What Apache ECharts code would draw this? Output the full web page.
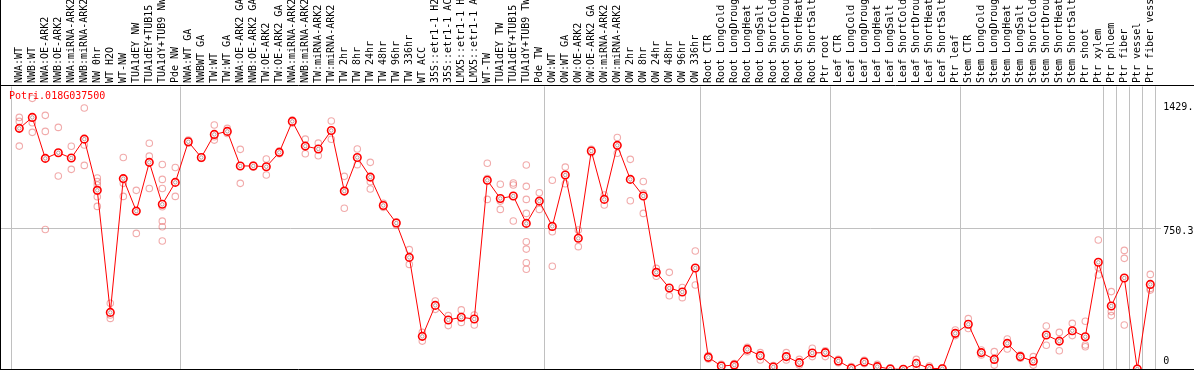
<!DOCTYPE html>
<html><head><meta charset="utf-8">
<script src="https://cdn.jsdelivr.net/npm/echarts@6/dist/echarts.min.js"></script>
<style>html,body{margin:0;padding:0;background:#fff;overflow:hidden}#c{width:1194px;height:370px}</style>
</head><body><div id="c"></div>
<script>
const chartTitle = 'Potri.018G037500';

const categories = [
  'NWA:WT','NWB:WT','NWA:OE-ARK2','NWB:OE-ARK2','NWA:miRNA-ARK2','NWB:miRNA-ARK2','NW 0hr','WT H2O','WT-NW',
  'TUA1dEY NW','TUA1dEY+TUB15 NW','TUA1dY+TUB9 NW','Pde NW',
  'NWA:WT GA','NWBWT GA','TW:WT','TW:WT GA','NWA:OE-ARK2 GA','NWB:OE-ARK2 GA','TW:OE-ARK2','TW:OE-ARK2 GA',
  'NWA:miRNA-ARK2 GA','NWB:miRNA-ARK2 GA','TW:miRNA-ARK2','TW:miRNA-ARK2 GA',
  'TW 2hr','TW 8hr','TW 24hr','TW 48hr','TW 96hr','TW 336hr','WT ACC',
  '35S::etr1-1 H2O','35S::etr1-1 ACC','LMX5::etr1-1 H2O','LMX5::etr1-1 ACC','WT-TW',
  'TUA1dEY TW','TUA1dEY+TUB15 TW','TUA1dY+TUB9 TW','Pde TW',
  'OW:WT','OW:WT GA','OW:OE-ARK2','OW:OE-ARK2 GA','OW:miRNA-ARK2','OW:miRNA-ARK2 GA',
  'OW 2hr','OW 8hr','OW 24hr','OW 48hr','OW 96hr','OW 336hr',
  'Root CTR','Root LongCold','Root LongDrought','Root LongHeat','Root LongSalt','Root ShortCold','Root ShortDrought','Root ShortHeat','Root ShortSalt','Ptr root',
  'Leaf CTR','Leaf LongCold','Leaf LongDrought','Leaf LongHeat','Leaf LongSalt','Leaf ShortCold','Leaf ShortDrought','Leaf ShortHeat','Leaf ShortSalt','Ptr leaf',
  'Stem CTR','Stem LongCold','Stem LongDrought','Stem LongHeat','Stem LongSalt','Stem ShortCold','Stem ShortDrought','Stem ShortHeat','Stem ShortSalt','Ptr shoot','Ptr xylem',
  'Ptr phloem','Ptr fiber','Ptr vessel','Ptr fiber vessel'
];

// index of first category of each group (separator drawn before it)
const groupStarts = [0, 13, 41, 53, 63, 73, 84, 85, 86, 87];

const meanValues = [
  1279,1337,1120,1150,1122,1222,951,305,1013,841,1099,877,993,
  1208,1125,1247,1263,1080,1080,1076,1152,1316,1185,1170,1268,
  947,1125,1021,871,778,596,178,342,265,279,270,1004,908,921,776,894,
  760,1032,697,1159,903,1189,1009,921,517,434,413,540,
  67,21,26,109,76,16,71,39,90,92,
  48,9,42,18,5,4,35,9,7,194,
  242,92,56,141,71,46,185,153,208,176,570,
  339,487,5,453
];

const replicates = [
  [1337,1316,1185],[1438,1309,1258],[1348,1263,744],[1284,1150,1027],[1184,1122,1062],[1387,1191,1083],
  [1016,997,979,917,866],[353,291,273],[1125,988,919],[951,841,723],[1200,1132,961],
  [1088,1009,961,864,788,758,683],[1072,993,919],
  [1217,1208,1200],[1129,1125,1120],[1297,1235,1217],[1279,1266,1252],[1168,1080,988],[1085,1080,1074],
  [1117,1076,1032],[1159,1152,1145],[1323,1316,1307],[1222,1185,1145],[1201,1170,1134],[1318,1268,1221],
  [1025,947,856],[1170,1125,1087],[1099,997,958],[882,871,861],[785,778,767],[637,596,559],[199,178,153],
  [365,342,321],[288,265,235],[318,279,252],[291,270,238],[1094,1014,903],[983,894,850],[990,979,789],
  [1085,972,903,829,679,640,568,533],[938,894,850],
  [1004,732,549],[1074,1032,986],[741,697,653],[1168,1159,1150],[926,903,873],[1231,1189,1147],
  [1115,1009,896],[998,935,829],[538,517,496],[517,434,393],[437,413,383],[630,540,450],
  [76,67,58],[30,21,12],[34,26,18],[120,109,97],[92,76,53],[23,16,9],[92,71,53],[56,39,26],[115,90,71],[102,92,71],
  [56,48,39],[18,9,4],[51,42,34],[30,18,9],[11,5,0],[7,4,0],[56,35,18],[21,9,0],[12,7,2],[212,194,182],
  [272,242,220],[106,92,79],[97,56,26],[164,141,111],[79,71,62],[71,46,26],[233,185,131],[199,153,102],[247,208,182],
  [258,132,123],[688,542,503],
  [415,309,288],[633,591,238],[5,5,5],[506,432,423]
];

const yMax = 1500.6;
const yTickValues = [0, 750.3, 1429.1];
const yTickLabels = ['0', '750.3', '1429.1'];
const gridValue = 750.3;

const repPoints = [];
replicates.forEach((arr, i) => arr.forEach(v => repPoints.push([i, v])));
const meanPoints = meanValues.map((v, i) => [i, v]);

const mono = 'DejaVu Sans Mono';
const sepFn = (idx) => groupStarts.indexOf(idx) >= 0;

const chart = echarts.init(document.getElementById('c'), null, {renderer: 'canvas'});
chart.setOption({
  animation: false,
  backgroundColor: '#fff',
  title: {
    text: chartTitle, left: 9, top: 91, padding: 0,
    textStyle: {color: '#ff0000', fontFamily: mono, fontSize: 10, fontWeight: 'normal'}
  },
  grid: [
    {left: 12.8, width: 1144, top: 86.5, height: 283.5, containLabel: false, outerBoundsMode: 'none'},
    {left: 11, width: 1144, top: 86.5, height: 283.5, containLabel: false, outerBoundsMode: 'none'}
  ],
  xAxis: [
    {
      gridIndex: 0, type: 'category', data: categories, position: 'top', boundaryGap: true,
      axisLine: {show: false}, axisTick: {show: false}, splitLine: {show: false},
      axisLabel: {rotate: 90, interval: 0, margin: 3.5, fontFamily: mono, fontSize: 10, color: '#000', hideOverlap: false}
    },
    {
      gridIndex: 1, type: 'category', data: categories, position: 'top', boundaryGap: true,
      axisLine: {show: false}, axisLabel: {show: false},
      axisTick: {show: true, inside: false, length: 87, interval: sepFn, lineStyle: {color: '#c0c0c0', width: 1}},
      splitLine: {show: true, interval: sepFn, lineStyle: {color: '#c0c0c0', width: 1}}
    }
  ],
  yAxis: [
    {
      gridIndex: 0, type: 'value', min: 0, max: yMax, position: 'right',
      axisLine: {show: false}, axisTick: {show: false}, splitLine: {show: false},
      axisLabel: {
        customValues: yTickValues, margin: 6.5, fontFamily: mono, fontSize: 10, color: '#000',
        verticalAlign: 'middle', align: 'left',
        formatter: function (v) {
          let i = 0, best = Infinity;
          yTickValues.forEach((t, k) => { if (Math.abs(t - v) < best) { best = Math.abs(t - v); i = k; } });
          return '{p' + i + '|' + yTickLabels[i] + '}';
        },
        rich: {
          p0: {padding: [0, 0, 17, 0], fontFamily: mono, fontSize: 10, color: '#000'},
          p1: {padding: [7, 0, 0, 0], fontFamily: mono, fontSize: 10, color: '#000'},
          p2: {padding: [15, 0, 0, 0], fontFamily: mono, fontSize: 10, color: '#000'}
        }
      }
    },
    {gridIndex: 1, type: 'value', min: 0, max: yMax, show: false}
  ],
  series: [
    {
      type: 'scatter', xAxisIndex: 0, yAxisIndex: 0, data: repPoints,
      symbol: 'circle', symbolSize: 6.5,
      itemStyle: {color: 'rgba(0,0,0,0)', borderColor: 'rgba(226,84,84,0.62)', borderWidth: 1.1},
      z: 3, silent: true
    },
    {
      type: 'line', xAxisIndex: 0, yAxisIndex: 0, data: meanValues,
      symbol: 'circle', symbolSize: 7.5, showAllSymbol: true,
      itemStyle: {color: '#ffffff', borderColor: '#ff0000', borderWidth: 1.6},
      lineStyle: {color: '#ff0000', width: 1},
      z: 4, silent: true
    },
    {
      type: 'scatter', xAxisIndex: 0, yAxisIndex: 0, data: meanPoints,
      symbol: 'circle', symbolSize: 3.5,
      itemStyle: {color: 'rgba(0,0,0,0)', borderColor: 'rgba(90,0,0,0.55)', borderWidth: 0.8},
      z: 5, silent: true
    }
  ]
});

const yMid = chart.convertToPixel({yAxisIndex: 0}, gridValue);
const yLine = Math.round(yMid) + 0.5;
chart.setOption({
  graphic: [
    {type: 'line', z: 1, silent: true, shape: {x1: 0, y1: yLine, x2: 1161, y2: yLine}, style: {stroke: '#c0c0c0', lineWidth: 1}},
    {type: 'line', z: 100, silent: true, shape: {x1: 0, y1: 85.5, x2: 1194, y2: 85.5}, style: {stroke: '#000', lineWidth: 1}},
    {type: 'line', z: 100, silent: true, shape: {x1: 0, y1: 369.5, x2: 1194, y2: 369.5}, style: {stroke: '#000', lineWidth: 1}},
    {type: 'line', z: 100, silent: true, shape: {x1: 0.5, y1: 0, x2: 0.5, y2: 370}, style: {stroke: '#000', lineWidth: 1}}
  ]
});
</script>
</body></html>
